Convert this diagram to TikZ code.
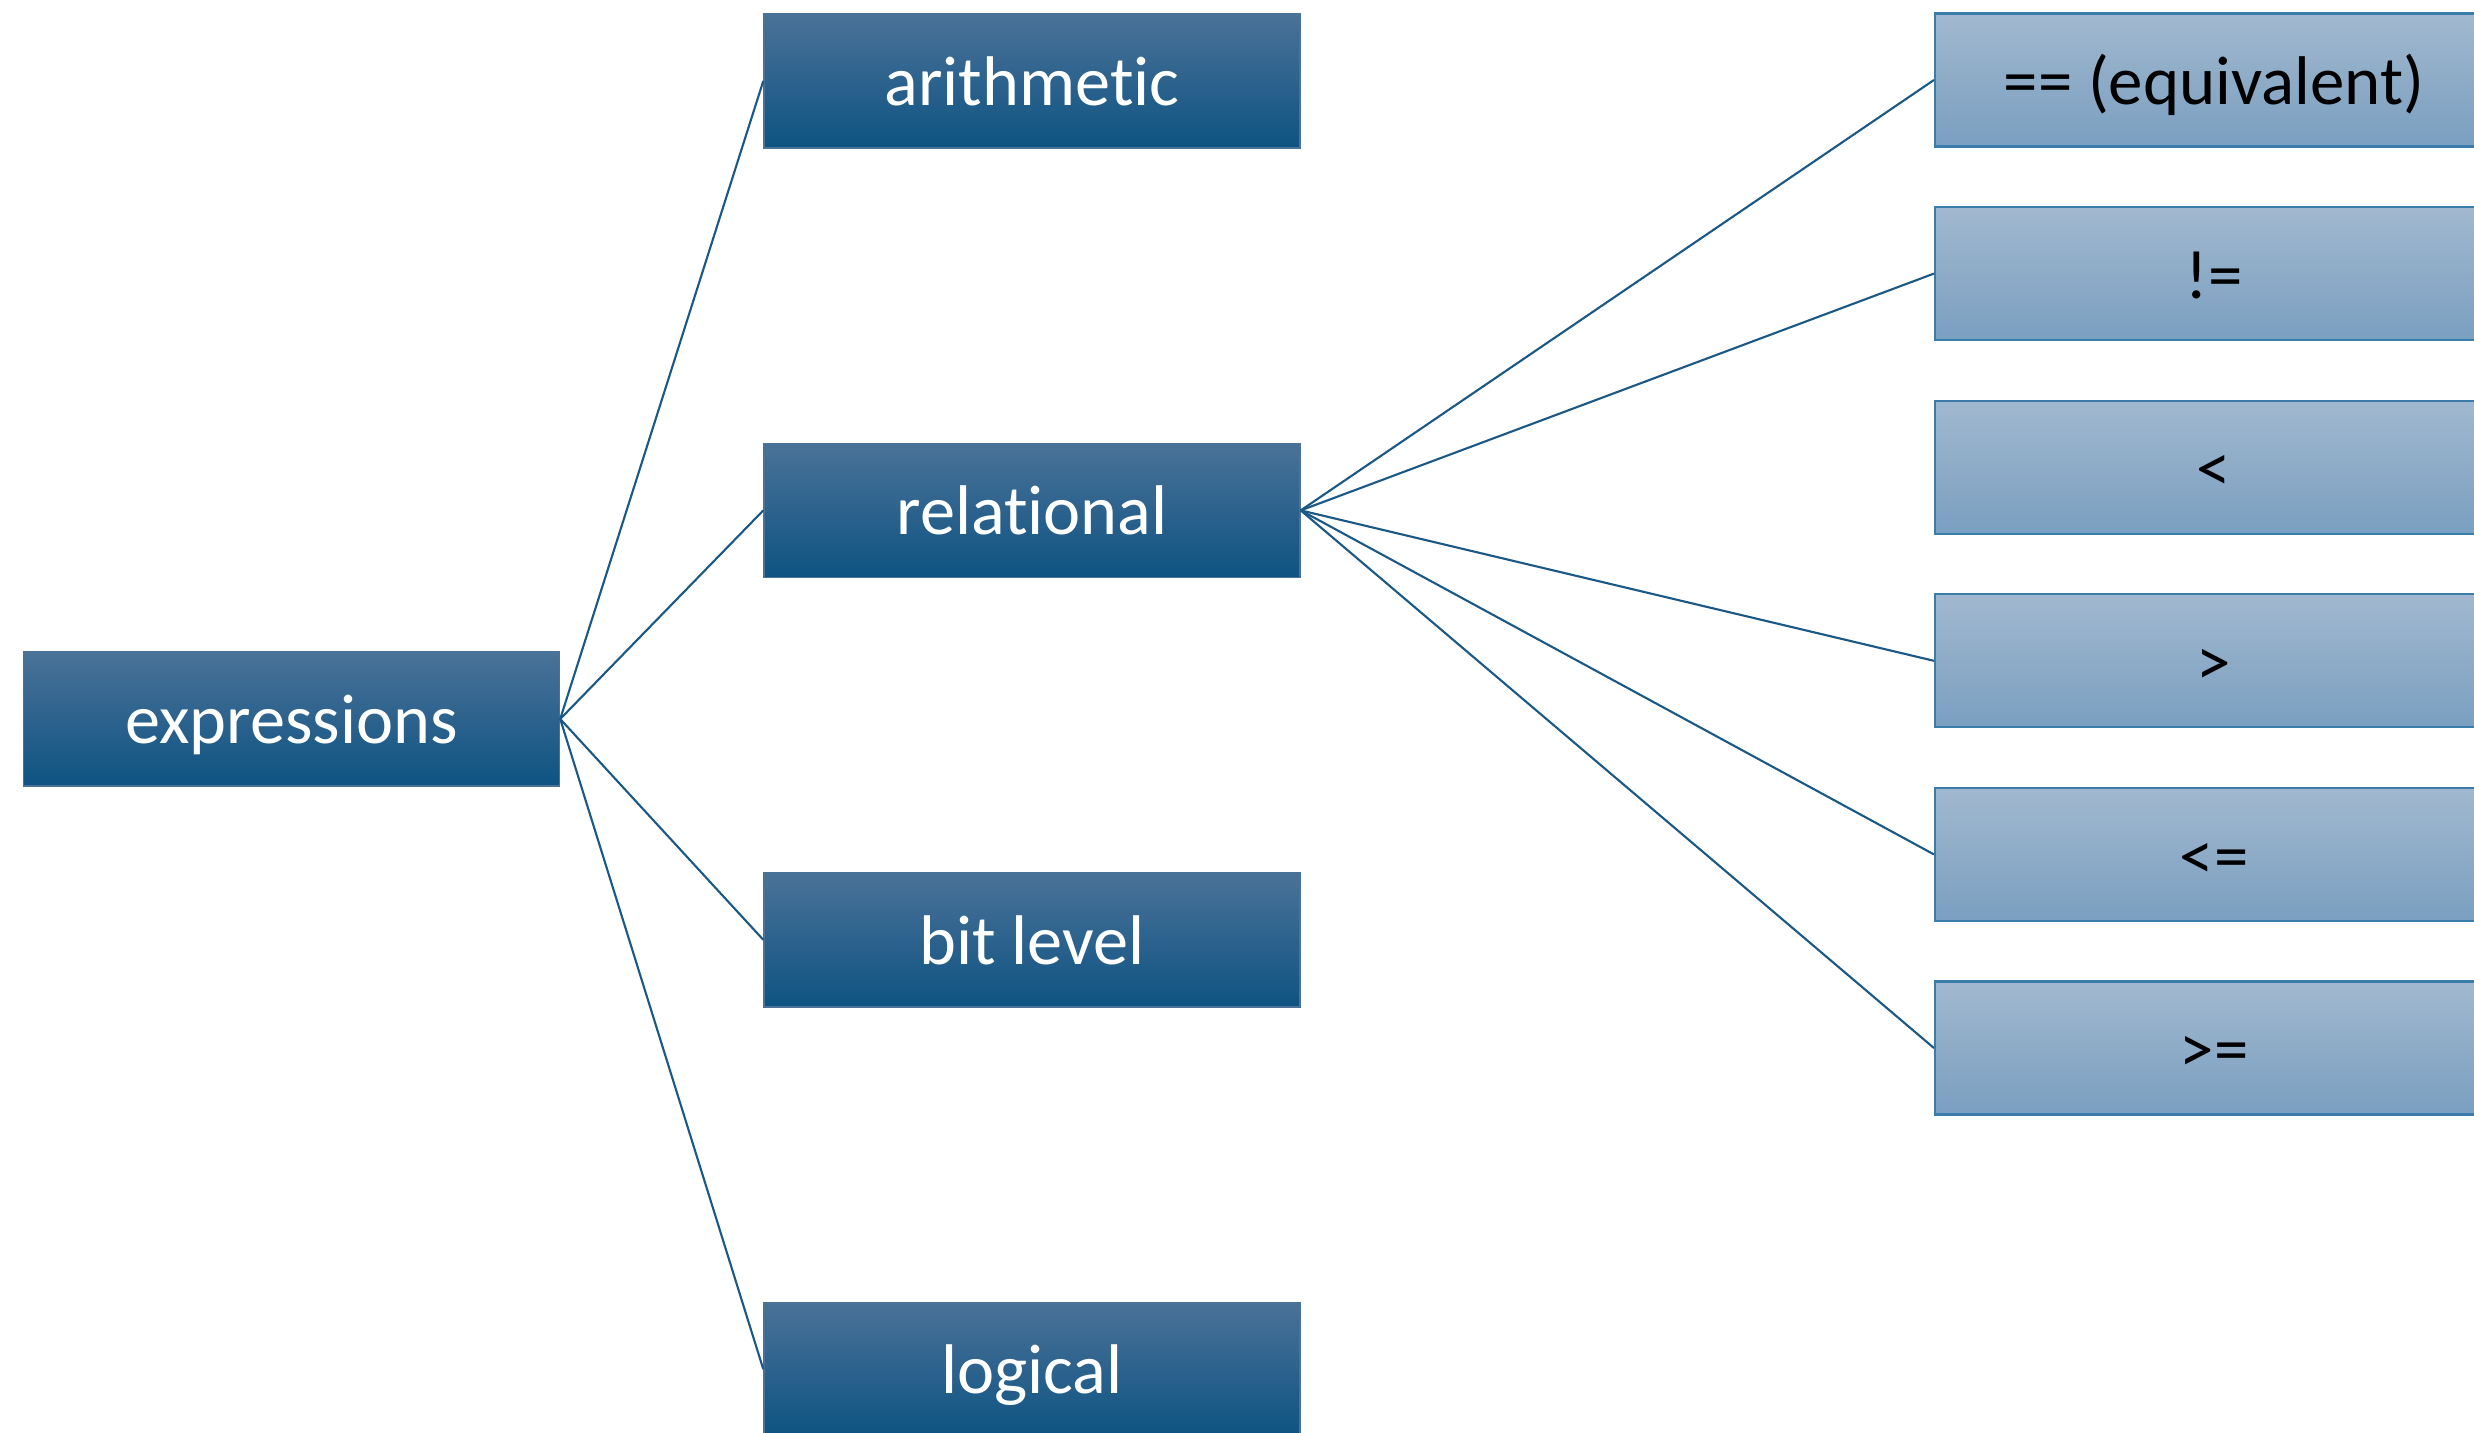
\documentclass[tikz,border=0pt]{standalone}
\usepackage{fontspec}
\setmainfont{Carlito}[RawFeature={-liga;-clig;-calt;-dlig}]
\usetikzlibrary{positioning}

\definecolor{darktop}{RGB}{74,114,152}
\definecolor{darkmid}{RGB}{20,94,141}
\definecolor{darkbot}{RGB}{14,83,130}
\definecolor{lighttop}{RGB}{161,184,207}
\definecolor{lightbot}{RGB}{122,159,192}
\definecolor{lightedge}{RGB}{58,124,170}
\definecolor{linkblue}{RGB}{26,88,134}

\tikzset{
    catbox/.style={draw=darktop, line width=0.4pt, top color=darktop, middle color=darkmid, bottom color=darkbot,
        minimum width=5.36cm, minimum height=1.34cm, text height=14.8pt, text depth=0.8pt,
        text=white, font=\fontsize{20}{24}\selectfont},
    opbox/.style={draw=lightedge, line width=0.6pt, top color=lighttop, bottom color=lightbot,
        minimum width=5.58cm, minimum height=1.33cm, text height=14pt, text depth=0pt,
        text=black, font=\fontsize{19.6}{24}\selectfont},
    link/.style={draw=linkblue, line width=0.6pt}
}

\begin{document}
\begin{tikzpicture}
    \useasboundingbox (0,0) rectangle (24.74,-14.33);

    % root
    \node[catbox] (expr) at (2.915,-7.19) {expressions};

    % kinds of expressions
    \begin{scope}[node distance=2.94cm]
        \node[catbox] (arith) at (10.32,-0.81) {arithmetic};
        \node[catbox, below=of arith] (rel) {relational};
        \node[catbox, below=of rel] (bit) {bit level};
        \node[catbox, below=of bit] (logic) {logical};
    \end{scope}

    % relational operators
    \begin{scope}[node distance=0.585cm]
        \node[opbox] (eq) at (22.14,-0.80) {== (equivalent)};
        \node[opbox, below=of eq] (neq) {!=};
        \node[opbox, below=of neq] (lt) {<};
        \node[opbox, below=of lt] (gt) {>};
        \node[opbox, below=of gt] (le) {<=};
        \node[opbox, below=of le] (ge) {>=};
    \end{scope}

    % connectors (none to <)
    \foreach \kind in {arith, rel, bit, logic}
        \draw[link] (expr.east) -- (\kind.west);
    \foreach \op in {eq, neq, gt, le, ge}
        \draw[link] (rel.east) -- (\op.west);
\end{tikzpicture}
\end{document}
